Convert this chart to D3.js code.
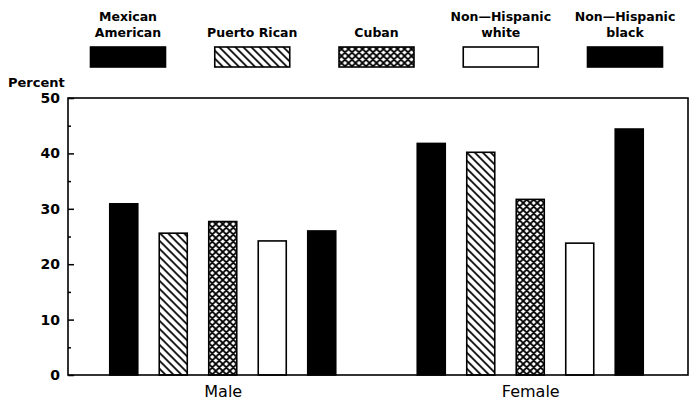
<!DOCTYPE html>
<html>
<head>
<meta charset="utf-8">
<script src="https://cdn.jsdelivr.net/npm/d3@7"></script>
<style>
  html, body { margin: 0; padding: 0; background: #fff; }
  text { font-family: "DejaVu Sans", sans-serif; fill: #000; }
</style>
</head>
<body>
<svg id="chart" width="697" height="405"></svg>
<script>
const groups = ["Male", "Female"];
const series = ["Mexican American", "Puerto Rican", "Cuban", "Non\u2014Hispanic white", "Non\u2014Hispanic black"];
const legendLines = [["Mexican", "American"], ["Puerto Rican"], ["Cuban"], ["Non\u2014Hispanic", "white"], ["Non\u2014Hispanic", "black"]];
const maleValues = [30.9, 25.6, 27.7, 24.2, 26.0];
const femaleValues = [41.8, 40.2, 31.7, 23.8, 44.4];
const fills = ["solid", "hatch", "cross", "white", "solid"];
const yTicks = [0, 10, 20, 30, 40, 50];
const yMinorTicks = [5, 15, 25, 35, 45];

const svg = d3.select("#chart");
const defs = svg.append("defs");

const hatch = defs.append("pattern").attr("id", "hatch")
  .attr("patternUnits", "userSpaceOnUse").attr("width", 8).attr("height", 8);
hatch.append("rect").attr("width", 8).attr("height", 8).attr("fill", "#fff");
hatch.append("path").attr("d", "M-2,-2 L10,10 M-2,6 L2,10 M6,-2 L10,2")
  .attr("stroke", "#000").attr("stroke-width", 1.7);

const cross = defs.append("pattern").attr("id", "cross")
  .attr("patternUnits", "userSpaceOnUse").attr("width", 7).attr("height", 7);
cross.append("rect").attr("width", 7).attr("height", 7).attr("fill", "#fff");
cross.append("path").attr("d", "M-1,-1 L8,8 M-1,6 L1,8 M6,-1 L8,1 M-1,8 L8,-1 M-1,1 L1,-1 M6,8 L8,6")
  .attr("stroke", "#000").attr("stroke-width", 1.9);

function fillFor(f) {
  if (f === "solid") return "#000";
  if (f === "hatch") return "url(#hatch)";
  if (f === "cross") return "url(#cross)";
  return "#fff";
}

const mLeft = 68, mRight = 688, mTop = 98, mBottom = 375;
const y = d3.scaleLinear().domain([0, 50]).range([mBottom, mTop]);
const x0 = d3.scalePoint().domain(groups).range([mLeft + 1, 684]).padding(0.5);
const x1 = d3.scaleBand().domain(series).range([-113, 113]).paddingInner(0.434).paddingOuter(0);

const data = groups.map((g, gi) => ({
  group: g,
  values: series.map((s, si) => ({ s, si, v: gi === 0 ? maleValues[si] : femaleValues[si] }))
}));

// bars
const gg = svg.selectAll("g.grp").data(data).enter().append("g")
  .attr("transform", d => `translate(${x0(d.group)},0)`);
gg.selectAll("rect").data(d => d.values).enter().append("rect")
  .attr("x", d => x1(d.s))
  .attr("width", x1.bandwidth())
  .attr("y", d => y(d.v))
  .attr("height", d => y(0) - y(d.v))
  .attr("fill", d => fillFor(fills[d.si]))
  .attr("stroke", "#000").attr("stroke-width", 1.6);

// frame
svg.append("rect").attr("x", mLeft).attr("y", mTop)
  .attr("width", mRight - mLeft).attr("height", mBottom - mTop)
  .attr("fill", "none").attr("stroke", "#000").attr("stroke-width", 1.6);

// y axis
const yAxis = d3.axisLeft(y).tickValues(yTicks).tickSize(-6).tickPadding(10);
const ya = svg.append("g").attr("transform", `translate(${mLeft},0)`).call(yAxis);
ya.select(".domain").remove();
ya.selectAll("line").attr("stroke", "#000").attr("stroke-width", 1.5);
ya.selectAll("text").attr("font-size", 14).attr("font-weight", "bold").attr("x", -8);
const yMinor = d3.axisLeft(y).tickValues(yMinorTicks).tickSize(-3).tickFormat("");
const ym = svg.append("g").attr("transform", `translate(${mLeft},0)`).call(yMinor);
ym.select(".domain").remove();
ym.selectAll("line").attr("stroke", "#000").attr("stroke-width", 1.5);

svg.append("text").attr("x", 8).attr("y", 87).attr("font-size", 13).attr("font-weight", "bold").text("Percent");

// x axis labels
const xAxis = d3.axisBottom(x0).tickSize(0).tickPadding(11);
const xa = svg.append("g").attr("transform", `translate(0,${mBottom})`).call(xAxis);
xa.select(".domain").remove();
xa.selectAll("text").attr("font-size", 16).attr("font-family", "DejaVu Sans");

// legend
const legendX = d3.scalePoint().domain(series).range([128, 625]);
const lg = svg.selectAll("g.leg").data(series).enter().append("g")
  .attr("transform", d => `translate(${legendX(d)},0)`);
lg.append("rect").attr("x", -37.5).attr("y", 47).attr("width", 75).attr("height", 20)
  .attr("fill", (d, i) => fillFor(fills[i])).attr("stroke", "#000").attr("stroke-width", 1.6);
lg.each(function(d, i) {
  const lines = legendLines[i];
  const g = d3.select(this);
  lines.forEach((t, j) => {
    g.append("text").attr("text-anchor", "middle")
      .attr("y", lines.length === 2 ? 21 + j * 16 : 37)
      .attr("font-size", 12.5).attr("font-weight", "bold").text(t);
  });
});
</script>
</body>
</html>
